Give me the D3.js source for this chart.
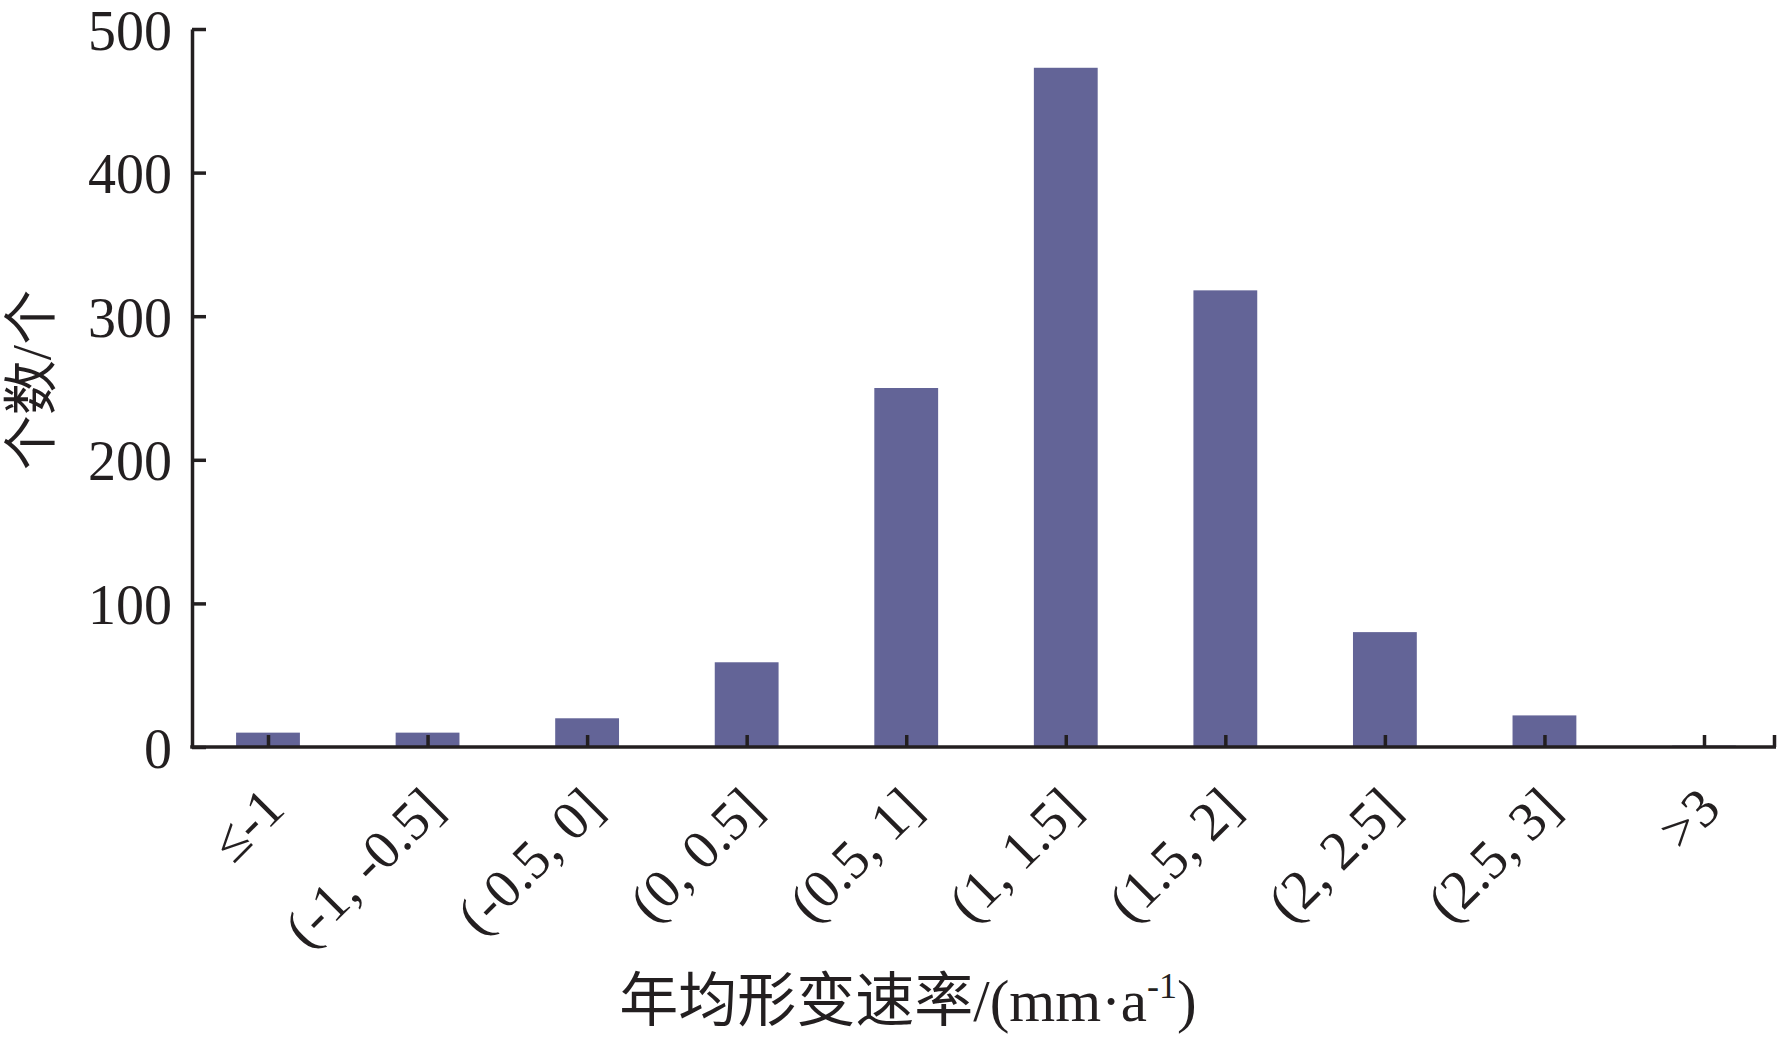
<!DOCTYPE html>
<html>
<head>
<meta charset="utf-8">
<script src="https://cdn.jsdelivr.net/npm/d3@7"></script>
<style>
  html, body { margin: 0; padding: 0; background: #fff; }
  svg { display: block; }
  text { font-family: "Liberation Serif", "Noto Sans CJK SC", serif; fill: #231f20; }
</style>
</head>
<body>
<svg id="chart" width="1779" height="1039"></svg>
<script>
const categories = ["≤-1", "(-1, -0.5]", "(-0.5, 0]", "(0, 0.5]", "(0.5, 1]", "(1, 1.5]", "(1.5, 2]", "(2, 2.5]", "(2.5, 3]", ">3"];
const counts = [10, 10, 20, 59, 250, 473, 318, 80, 22, 1];
const yTicks = [0, 100, 200, 300, 400, 500];

const svg = d3.select("#chart");
const axisColor = "#231f20";
const barColor = "#636497";

const y = d3.scaleLinear().domain([0, 500]).range([747, 29]);
const x = d3.scalePoint().domain(categories).range([268, 1704]);
const barW = x.step() * 0.4;
const xLeft = 192, xRight = 1776;

// bars
svg.append("g").selectAll("rect").data(categories).join("rect")
  .attr("x", d => x(d) - barW / 2)
  .attr("y", (d, i) => y(counts[i]))
  .attr("width", barW)
  .attr("height", (d, i) => y(0) - y(counts[i]))
  .attr("fill", barColor);

// y axis
const gy = svg.append("g").attr("transform", `translate(${xLeft},0)`)
  .call(d3.axisLeft(y).tickValues(yTicks).tickSize(-14).tickSizeOuter(0).tickPadding(20));
gy.select(".domain").attr("stroke", axisColor).attr("stroke-width", 3.5);
gy.selectAll(".tick line").attr("stroke", axisColor).attr("stroke-width", 3.5);
gy.selectAll(".tick text").attr("font-size", 56).attr("fill", axisColor)
  .attr("dy", "0.36em")
  .style("font-family", '"Liberation Serif", serif');

// x axis
const gx = svg.append("g").attr("transform", `translate(0,${y(0)})`)
  .call(d3.axisBottom(x).tickSize(-12).tickSizeOuter(0).tickFormat(""));
gx.select(".domain").remove();
gx.selectAll(".tick line").attr("stroke", axisColor).attr("stroke-width", 3.5);
gx.append("line").attr("x1", xLeft - 1.75).attr("x2", xRight).attr("y1", 0).attr("y2", 0)
  .attr("stroke", axisColor).attr("stroke-width", 3.5);
gx.append("line").attr("x1", xRight - 1.5).attr("x2", xRight - 1.5).attr("y1", 0).attr("y2", -12)
  .attr("stroke", axisColor).attr("stroke-width", 3.5);

// x tick labels (rotated)
svg.append("g").selectAll("text").data(categories).join("text")
  .attr("transform", d => `translate(${x(d) + 19},${y(0) + 64}) rotate(-45)`)
  .attr("text-anchor", "end")
  .attr("font-size", 55)
  .text(d => d);

// y title
svg.append("text")
  .attr("transform", "translate(50,380) rotate(-90)")
  .attr("text-anchor", "middle")
  .attr("font-size", 55)
  .text("个数/个");

// x title
const xt = svg.append("text")
  .attr("x", 908).attr("y", 1021)
  .attr("text-anchor", "middle")
  .attr("font-size", 59);
xt.append("tspan").text("年均形变速率/(mm·a");
xt.append("tspan").attr("font-size", 36).attr("dy", -23).text("-1");
xt.append("tspan").attr("dy", 23).text(")");
</script>
</body>
</html>
